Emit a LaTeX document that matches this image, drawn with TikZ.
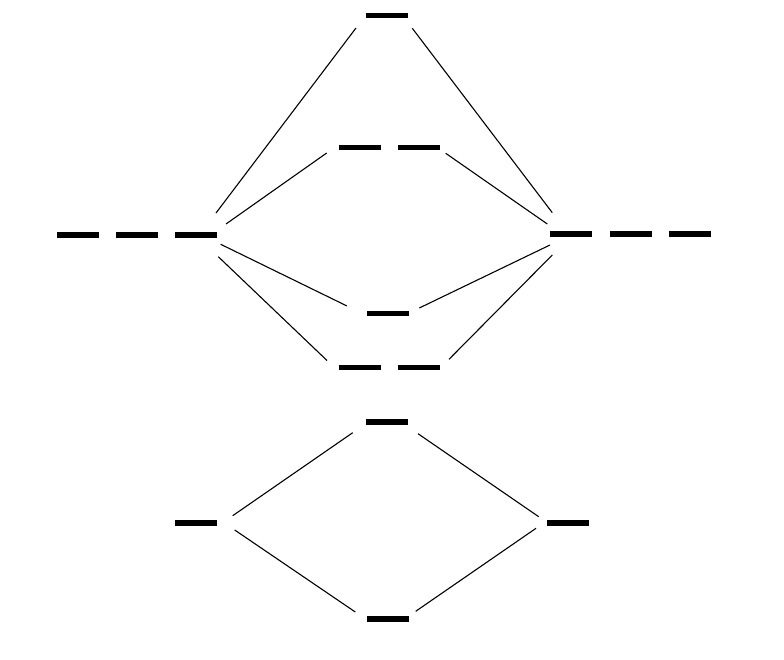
\documentclass[tikz,border=0pt]{standalone}
\begin{document}
\begin{tikzpicture}[x=1pt,y=-1pt,
  lvl/.style={fill=black,draw=none,inner sep=0pt,minimum width=42pt,minimum height=5.5pt},
  conn/.style={line width=1.1pt,black}]
\useasboundingbox (0,0) rectangle (784,660);
% left p levels
\node[lvl] (L1) at (78,235) {};
\node[lvl] (L2) at (137,235) {};
\node[lvl] (L3) at (196,235) {};
% right p levels
\node[lvl] (R1) at (571,234) {};
\node[lvl] (R2) at (630.5,234) {};
\node[lvl] (R3) at (690,234) {};
% central levels
\node[lvl] (T) at (387,15.5) {};
\node[lvl] (U1) at (359.7,147.3) {};
\node[lvl] (U2) at (419.3,147.3) {};
\node[lvl] (M) at (388.3,313.3) {};
\node[lvl] (D1) at (359.7,367.3) {};
\node[lvl] (D2) at (419.3,367.3) {};
% s levels
\node[lvl] (SL) at (196.3,523) {};
\node[lvl] (SR) at (568,523) {};
\node[lvl] (SA) at (387.2,422) {};
\node[lvl] (SB) at (388.3,619) {};
% p connectors
\draw[conn] ([shift={(20,-22)}]L3.center) -- ([shift={(-31,12.5)}]T.center);
\draw[conn] ([shift={(30,-11)}]L3.center) -- ([shift={(-33,5.7)}]U1.center);
\draw[conn] ([shift={(24.7,9.3)}]L3.center) -- ([shift={(-41.3,-7.3)}]M.center);
\draw[conn] ([shift={(22.3,21.7)}]L3.center) -- ([shift={(-32.7,-6.8)}]D1.center);
\draw[conn] ([shift={(25.3,12.8)}]T.center) -- ([shift={(-18.7,-21.3)}]R1.center);
\draw[conn] ([shift={(26.4,6)}]U2.center) -- ([shift={(-23.7,-10)}]R1.center);
\draw[conn] ([shift={(31,-5.3)}]M.center) -- ([shift={(-21,11)}]R1.center);
\draw[conn] ([shift={(29.7,-8)}]D2.center) -- ([shift={(-18.7,21)}]R1.center);
% s connectors
\draw[conn] ([shift={(36.4,-7.3)}]SL.center) -- ([shift={(-34.5,10.7)}]SA.center);
\draw[conn] ([shift={(38.4,7)}]SL.center) -- ([shift={(-33,-7)}]SB.center);
\draw[conn] ([shift={(30.8,11.7)}]SA.center) -- ([shift={(-29.3,-6.3)}]SR.center);
\draw[conn] ([shift={(27.4,-7.7)}]SB.center) -- ([shift={(-32,5.3)}]SR.center);
\end{tikzpicture}
\end{document}
